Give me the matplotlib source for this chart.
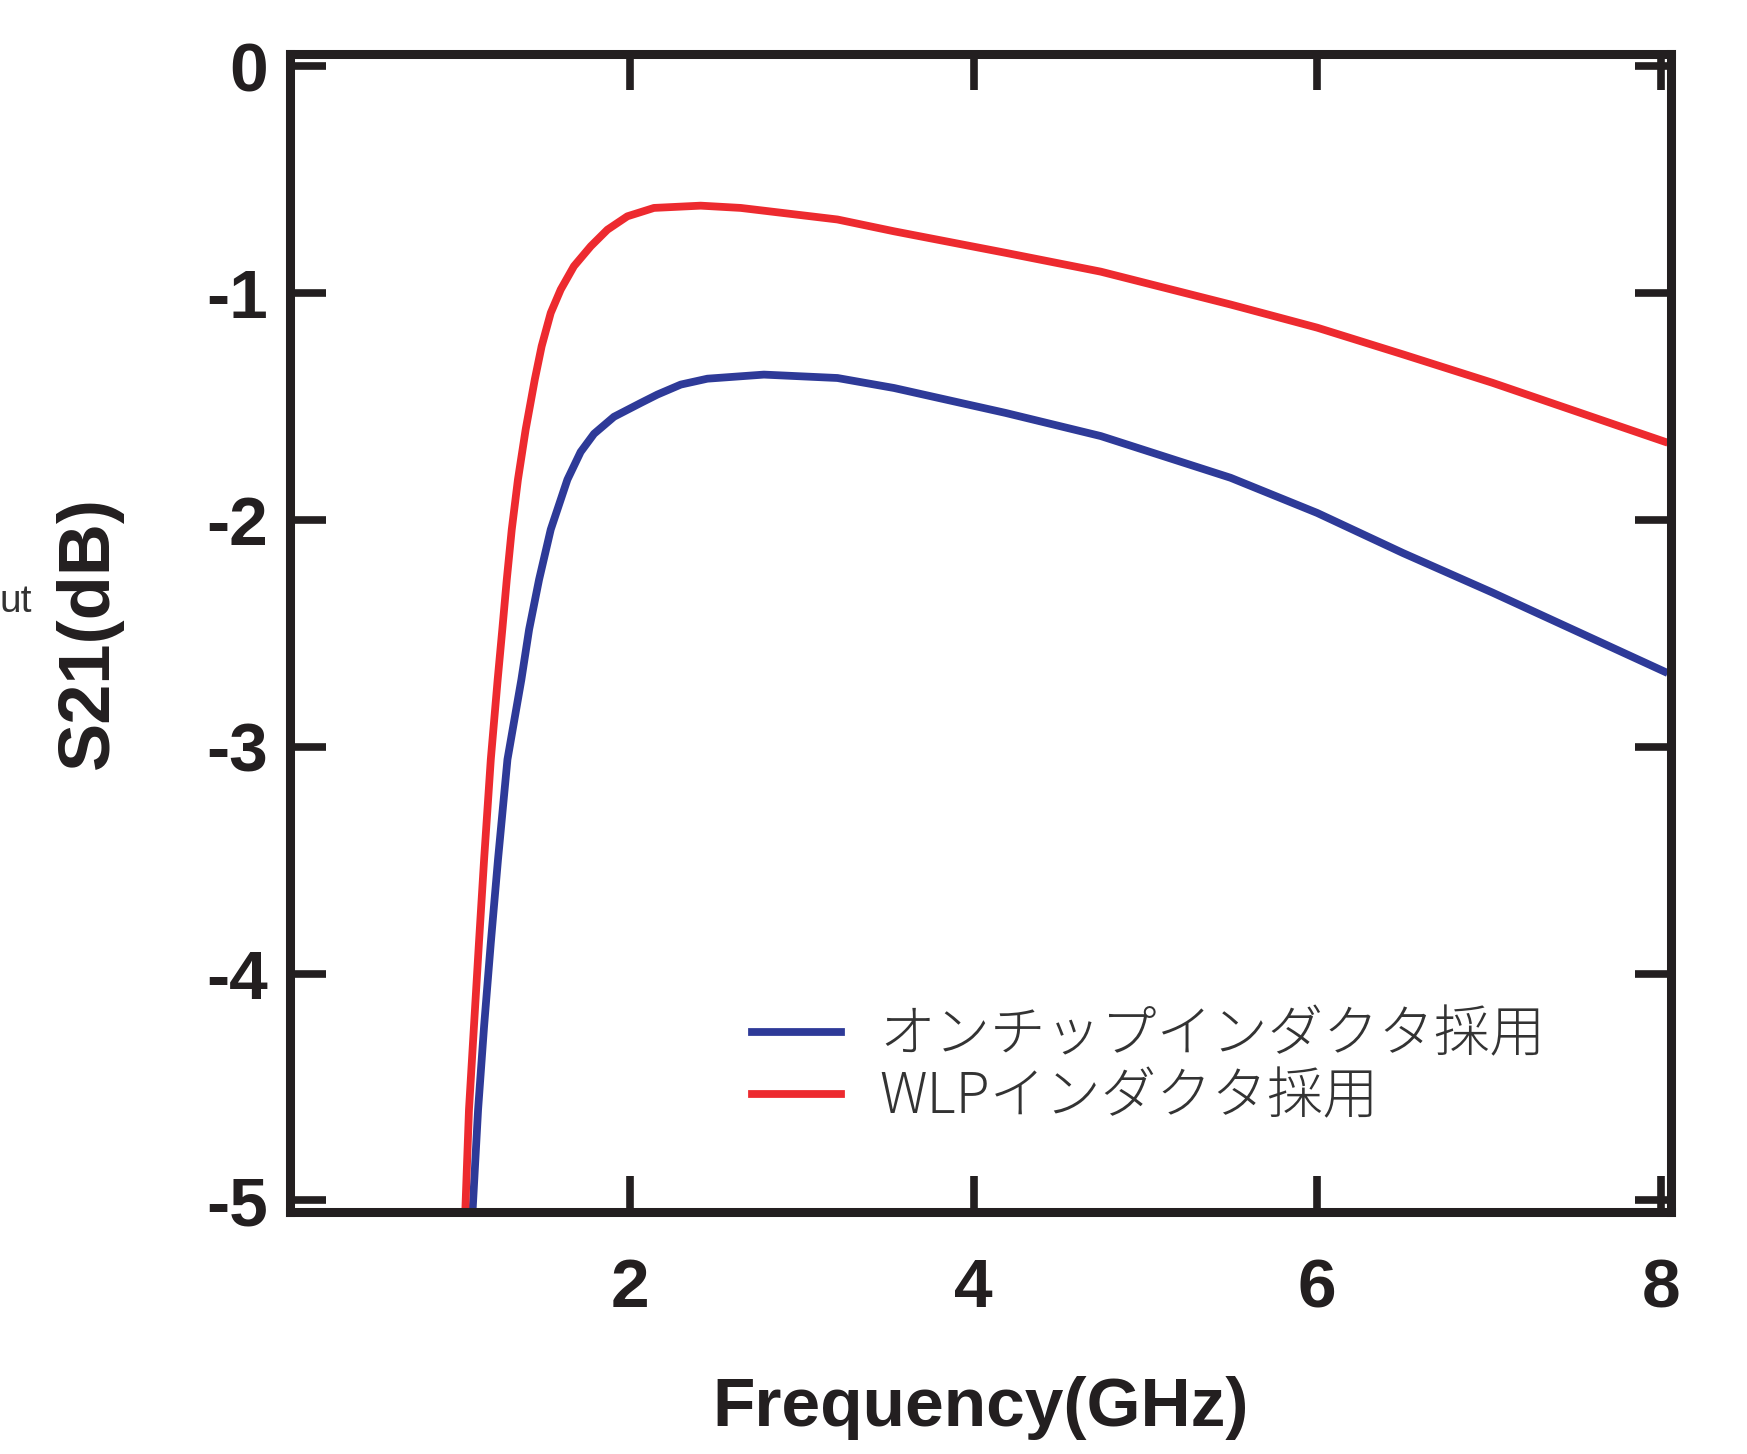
import matplotlib
matplotlib.use("Agg")
import matplotlib.pyplot as plt

# S21 readings (GHz, dB)
freq_wlp = [1.04, 1.062, 1.091, 1.120, 1.150, 1.189, 1.229, 1.256, 1.282, 1.311,
            1.347, 1.392, 1.445, 1.485, 1.538, 1.596, 1.673, 1.771, 1.868, 1.984,
            2.139, 2.411, 2.644, 3.207, 3.536, 4.186, 4.74, 5.496, 6.00, 6.50,
            7.02, 8.02]
s21_wlp = [-5.06, -4.60, -4.232, -3.865, -3.497, -3.056, -2.704, -2.483, -2.263, -2.042,
           -1.822, -1.601, -1.381, -1.234, -1.087, -0.984, -0.881, -0.793, -0.720, -0.661,
           -0.624, -0.614, -0.624, -0.675, -0.727, -0.822, -0.905, -1.05, -1.152, -1.27,
           -1.395, -1.654]

freq_chip = [1.082, 1.115, 1.150, 1.189, 1.231, 1.286, 1.367, 1.412, 1.470, 1.538,
             1.635, 1.712, 1.790, 1.906, 2.062, 2.159, 2.295, 2.450, 2.779, 3.207,
             3.536, 4.186, 4.74, 5.496, 6.00, 6.50, 7.02, 8.02]
s21_chip = [-5.06, -4.60, -4.232, -3.865, -3.497, -3.056, -2.704, -2.483, -2.263, -2.042,
            -1.822, -1.70, -1.62, -1.545, -1.484, -1.447, -1.403, -1.377, -1.359, -1.374,
            -1.418, -1.528, -1.630, -1.814, -1.969, -2.146, -2.32, -2.668]

xticks = [2, 4, 6, 8]
yticks = [0, -1, -2, -3, -4, -5]
labels = ["オンチップインダクタ採用", "WLPインダクタ採用"]

num_font = ["Liberation Sans Narrow", "Liberation Sans", "DejaVu Sans"]
jp_font = ["Noto Sans CJK JP", "DejaVu Sans"]
ink = "#231f20"

fig = plt.figure(figsize=(17.47, 14.54), dpi=100)
ax = fig.add_axes([0.166, 0.1667, 0.7905, 0.7962])

ax.plot(freq_chip, s21_chip, color="#2e3a98", lw=5.6, label=labels[0],
        solid_joinstyle="round")
ax.plot(freq_wlp, s21_wlp, color="#ed2a2f", lw=5.6, label=labels[1],
        solid_joinstyle="round")

ax.set_xlim(0.02, 8.06)
ax.set_ylim(-5.05, 0.055)
ax.set_xticks(xticks)
ax.set_yticks(yticks)
ax.set_yticklabels([str(v) for v in yticks])

for s in ax.spines.values():
    s.set_linewidth(6.5)
    s.set_color(ink)

ax.tick_params(direction="in", length=26, width=5.5, color=ink,
               top=True, right=True, labelcolor=ink)
ax.tick_params(axis="x", pad=33)
ax.tick_params(axis="y", pad=16)
for t in ax.get_xticklabels() + ax.get_yticklabels():
    t.set_family(num_font)
    t.set_fontweight("bold")
    t.set_fontsize(50)

ax.set_xlabel("Frequency(GHz)", family=num_font, fontweight="bold",
              fontsize=50, color=ink)
ax.xaxis.set_label_coords(0.5, -0.142)
ax.set_ylabel("S21(dB)", family=num_font, fontweight="bold",
              fontsize=52, color=ink, va="center")
ax.yaxis.set_label_coords(-0.1455, 0.5)

leg = ax.legend(loc="center left", bbox_to_anchor=(0.3345, 0.1256),
                frameon=False, borderpad=0, borderaxespad=0,
                handlelength=1.6, handletextpad=0.7, labelspacing=0.05,
                prop={"family": jp_font, "size": 40, "weight": "light"})
for t in leg.get_texts():
    t.set_color("#333333")

# cut-off text at left edge
fig.text(0.0, 1 - 602 / 1454, "ut", fontsize=28, color="#333333",
         family=["Liberation Sans", "DejaVu Sans"], va="center", ha="left")

fig.savefig("out.png", dpi=100)
